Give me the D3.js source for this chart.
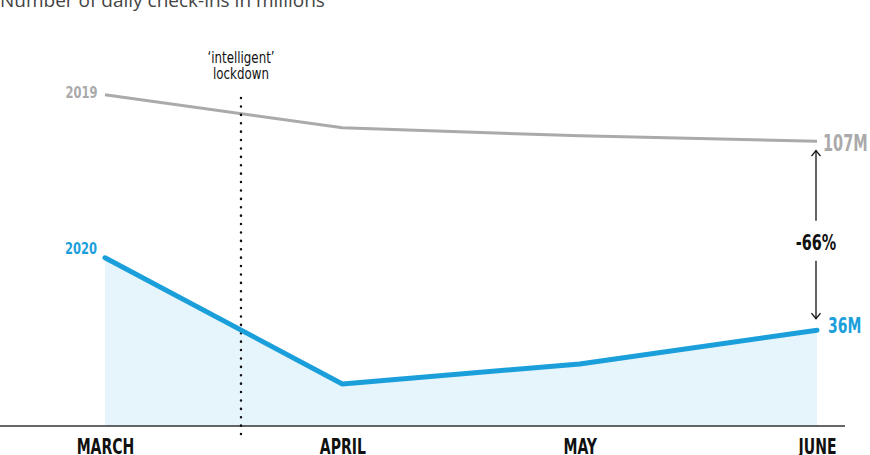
<!DOCTYPE html>
<html><head><meta charset="utf-8">
<script src="https://cdn.jsdelivr.net/npm/d3@7"></script>
<style>
body{margin:0;background:#fff;}
svg{display:block;}
</style>
</head><body>
<svg id="chart" width="870" height="455"></svg>
<script>
const months = ["MARCH","APRIL","MAY","JUNE"];
const values2019 = [124.4, 112, 109, 107];
const values2020 = [63.2, 15.8, 23.3, 36];
const lockdownPos = 0.573; // position between March and April
const title = "Number of daily check-ins in millions";
const changeLabel = "-66%";

const svg = d3.select("#chart");
const x = d3.scaleLinear().domain([0, months.length - 1]).range([105, 817]);
const y = d3.scaleLinear().domain([0, 140]).range([426, 53.3]);
const blue = "#1b9fdb", gray = "#aaaaaa";
const COND = "'DejaVu Sans Condensed','DejaVu Sans',sans-serif";

function label(parent, px, py, text, o) {
  const g = parent.append("g").attr("transform", `translate(${px},${py}) scale(${o.sx || 0.72},1)`);
  return g.append("text").attr("x", 0).attr("y", 0)
    .attr("font-family", o.family || COND)
    .attr("font-size", o.size).attr("font-weight", o.weight || "bold")
    .attr("text-anchor", o.anchor || "start").attr("fill", o.fill || "#111").text(text);
}

// title
svg.append("text").attr("x", 0).attr("y", 7)
  .attr("font-family", "'Open Sans', sans-serif").attr("font-size", 19)
  .attr("fill", "#444").text(title);

const idx = d3.range(months.length);

// area
svg.append("path").datum(idx)
  .attr("d", d3.area().x(i => x(i)).y0(y(0)).y1(i => y(values2020[i])))
  .attr("fill", "#e6f4fb");

// axis baseline
svg.append("line").attr("x1", 0).attr("x2", 845).attr("y1", y(0)).attr("y2", y(0))
  .attr("stroke", "#333").attr("stroke-width", 1.5);

// month labels (axis)
const xAxis = d3.axisBottom(x).tickValues(idx).tickFormat(() => "").tickSize(0);
const gx = svg.append("g").attr("transform", `translate(0,${y(0)})`).call(xAxis);
gx.select(".domain").remove();
gx.selectAll(".tick").each(function(i) {
  d3.select(this).select("text").remove();
  label(d3.select(this), 0, 28, months[i], {size: 22, anchor: "middle", sx: 0.71});
});

// 2019 line
svg.append("path").datum(idx)
  .attr("d", d3.line().x(i => x(i)).y(i => y(values2019[i])))
  .attr("fill", "none").attr("stroke", gray).attr("stroke-width", 3);

// lockdown line
const lx = x(lockdownPos);
svg.append("line").attr("x1", lx).attr("x2", lx).attr("y1", 98).attr("y2", 441)
  .attr("stroke", "#111").attr("stroke-width", 2.5)
  .attr("stroke-dasharray", "0.1 8.3").attr("stroke-linecap", "round");
label(svg, lx, 63, "\u2018intelligent\u2019", {size: 15.5, weight: "normal", anchor: "middle", sx: 0.85});
label(svg, lx, 79, "lockdown", {size: 15.5, weight: "normal", anchor: "middle", sx: 0.85});

// 2020 line
svg.append("path").datum(idx)
  .attr("d", d3.line().x(i => x(i)).y(i => y(values2020[i])))
  .attr("fill", "none").attr("stroke", blue).attr("stroke-width", 5)
  .attr("stroke-linecap", "round").attr("stroke-linejoin", "round");

// series labels
label(svg, 97.5, 97.5, "2019", {size: 16, anchor: "end", fill: gray, sx: 0.8});
label(svg, 97, 254, "2020", {size: 16, anchor: "end", fill: blue, sx: 0.8});

const last = months.length - 1;
label(svg, 823, y(values2019[last]) + 9.5, values2019[last] + "M", {size: 23, fill: gray, sx: 0.7});
label(svg, 828, y(values2020[last]) + 2.5, values2020[last] + "M", {size: 21, fill: blue, sx: 0.74});

// change arrow
const ax = x(last) - 1;
const yTop = y(values2019[last]) + 9.5, yBot = y(values2020[last]) - 11.5;
const yMid = (yTop + yBot) / 2;
const g = svg.append("g").attr("stroke", "#111").attr("stroke-width", 1.3).attr("fill", "none");
g.append("line").attr("x1", ax).attr("x2", ax).attr("y1", yTop).attr("y2", yMid - 14);
g.append("line").attr("x1", ax).attr("x2", ax).attr("y1", yMid + 26).attr("y2", yBot);
g.append("path").attr("d", `M${ax-4.5},${yTop+5.5}L${ax},${yTop}L${ax+4.5},${yTop+5.5}`);
g.append("path").attr("d", `M${ax-4.5},${yBot-5.5}L${ax},${yBot}L${ax+4.5},${yBot-5.5}`);
label(svg, ax, yMid + 15, changeLabel, {size: 22, anchor: "middle", sx: 0.73});
</script>
</body></html>
